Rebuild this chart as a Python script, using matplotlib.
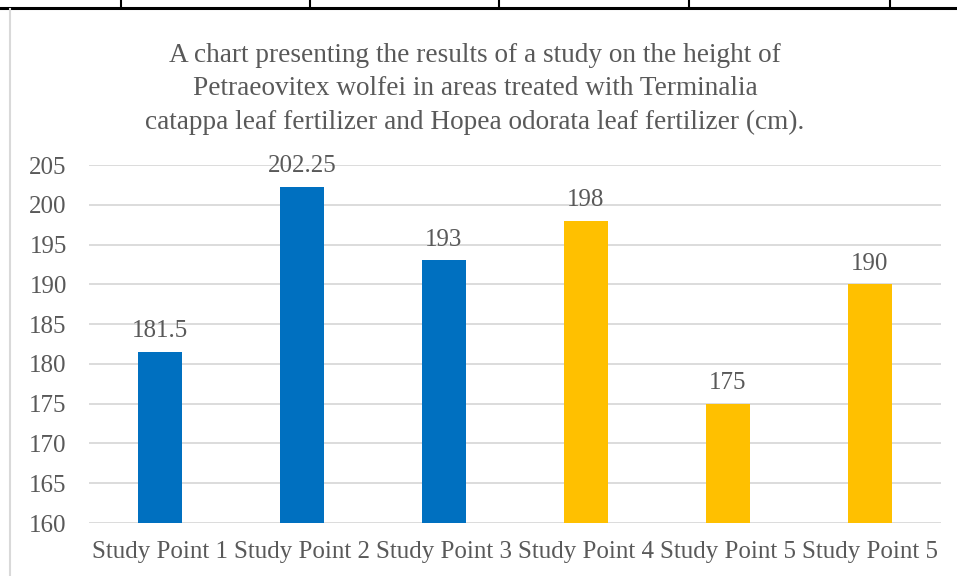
import matplotlib.pyplot as plt
from matplotlib.lines import Line2D

labels = ['Study Point 1', 'Study Point 2', 'Study Point 3',
          'Study Point 4', 'Study Point 5', 'Study Point 5']
heights = [181.5, 202.25, 193, 198, 175, 190]
value_text = ['181.5', '202.25', '193', '198', '175', '190']
colors = ['#0070C0', '#0070C0', '#0070C0', '#FFC000', '#FFC000', '#FFC000']
yticks = [160, 165, 170, 175, 180, 185, 190, 195, 200, 205]

title = ('A chart presenting the results of a study on the height of\n'
         'Petraeovitex wolfei in areas treated with Terminalia\n'
         'catappa leaf fertilizer and Hopea odorata leaf fertilizer (cm).')

plt.rcParams['font.family'] = ['Liberation Serif', 'DejaVu Serif']
txt = '#595959'
W, H = 957, 576

fig = plt.figure(figsize=(W / 100, H / 100), dpi=100)
ax = fig.add_axes([89 / W, 1 - 523 / H, (941 - 89) / W, (523 - 165) / H])

x = list(range(len(labels)))
ax.bar(x, heights, width=0.31, color=colors, zorder=3)
for xi, h, t in zip(x, heights, value_text):
    ax.annotate(t, (xi, h), xytext=(0, 7), textcoords='offset points',
                ha='center', va='bottom', fontsize=18, color=txt)

ax.set_xlim(-0.5, len(labels) - 0.5)
ax.set_ylim(160, 205)
ax.set_yticks(yticks)
ax.set_xticks(x)
ax.set_xticklabels(labels, fontsize=18, color=txt)
ax.tick_params(axis='y', labelsize=18, labelcolor=txt, length=0, pad=16)
ax.tick_params(axis='x', length=0, pad=13)
ax.grid(axis='y', color='#D9D9D9', linewidth=1.3, zorder=0)
for s in ax.spines.values():
    s.set_visible(False)

fig.text(475 / W, 1 - 89 / H, title, ha='center', va='center', fontsize=19.6,
         color=txt, linespacing=1.45)

# table border remnants at the top and the chart frame on the left
fig.add_artist(Line2D([0, 1], [1 - 7.5 / H, 1 - 7.5 / H], color='black', lw=2.2))
for px in [121, 310, 499, 689, 890]:
    fig.add_artist(Line2D([px / W, px / W], [1 - 7.5 / H, 1], color='black', lw=1.5))
fig.add_artist(Line2D([9.5 / W, 9.5 / W], [0, 1 - 9 / H], color='#D9D9D9', lw=1.5))

fig.savefig('out.png', dpi=100)
